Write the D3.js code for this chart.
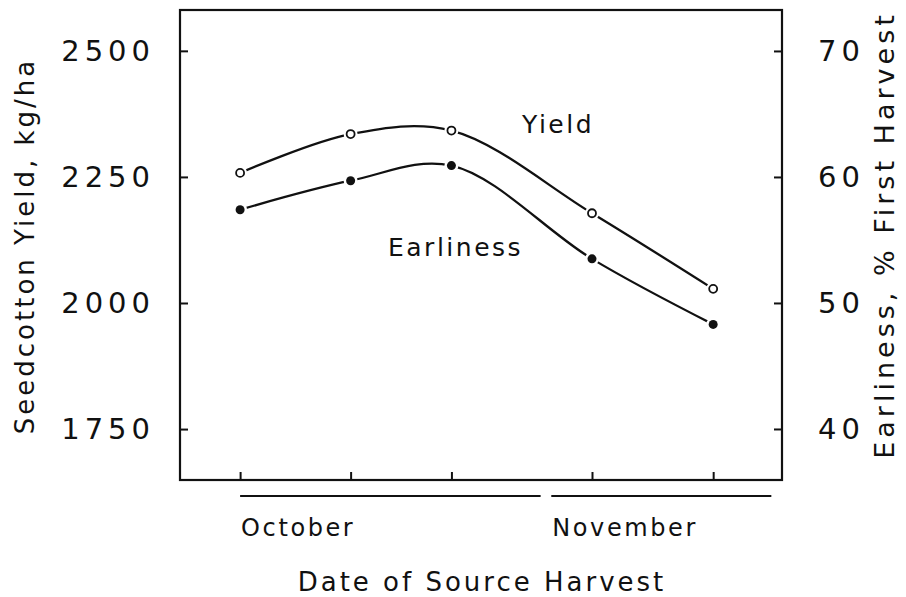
<!DOCTYPE html>
<html>
<head>
<meta charset="utf-8">
<script src="https://cdn.jsdelivr.net/npm/d3@7"></script>
<style>
  body { margin: 0; background: #fff; }
  svg text { font-family: "DejaVu Sans", sans-serif; fill: #111; }
</style>
</head>
<body>
<div class="chart"></div>
<script>
// days after 1 October at which source harvest was taken
const harvestDays = [0, 11.4, 21.8, 36.3, 48.8];
const yieldValues = [2258, 2335, 2342, 2178, 2028];     // kg/ha, left axis
const earlinessValues = [57.4, 59.7, 60.9, 53.5, 48.3]; // %, right axis
const yieldTicks = [1750, 2000, 2250, 2500];
const earlinessTicks = [40, 50, 60, 70];
const monthNames = ["October", "November"];
const monthStart = [0, 32.1];
const monthEnd = [31.0, 54.8];

const svg_width = 906;
const svg_height = 597;
const margin = {top: 10, right: 124, bottom: 117, left: 180};
const chart_width = svg_width - margin.left - margin.right;
const chart_height = svg_height - margin.top - margin.bottom;

const svg = d3.select(".chart").append("svg")
  .attr("width", svg_width).attr("height", svg_height);
svg.append("rect").attr("width", svg_width).attr("height", svg_height).attr("fill", "#fff");

const g = svg.append("g").attr("transform", `translate(${margin.left},${margin.top})`);

const xScale = d3.scaleLinear([-6.2, 55.9], [0, chart_width]);
const yLeft = d3.scaleLinear([1649, 2581], [chart_height, 0]);
const yRight = d3.scaleLinear([35.95, 73.25], [chart_height, 0]);

// frame
g.append("rect")
  .attr("width", chart_width).attr("height", chart_height)
  .attr("fill", "none").attr("stroke", "#111").attr("stroke-width", 2.2);

const tickFont = g => g.selectAll("text")
  .style("font-size", "29px").style("letter-spacing", "5px").attr("fill", "#111");

const leftAxis = g.append("g").attr("class", "y axis")
  .call(d3.axisLeft(yLeft).tickValues(yieldTicks).tickFormat(d3.format("d"))
    .tickSizeInner(-8).tickSizeOuter(0).tickPadding(25));
leftAxis.call(tickFont);

const rightAxis = g.append("g").attr("class", "y2 axis")
  .attr("transform", `translate(${chart_width},0)`)
  .call(d3.axisRight(yRight).tickValues(earlinessTicks).tickFormat(d3.format("d"))
    .tickSizeInner(-8).tickSizeOuter(0).tickPadding(36));
rightAxis.call(tickFont);

const bottomAxis = g.append("g").attr("class", "x axis")
  .attr("transform", `translate(0,${chart_height})`)
  .call(d3.axisBottom(xScale).tickValues(harvestDays).tickSizeInner(-8).tickSizeOuter(0).tickFormat(""));

g.selectAll(".axis .domain").remove();
g.selectAll(".axis .tick line").attr("stroke", "#111").attr("stroke-width", 2);
g.selectAll(".axis text").attr("font-family", "DejaVu Sans");

// month underlines and names
monthNames.forEach((m, i) => {
  g.append("line")
    .attr("x1", xScale(monthStart[i])).attr("x2", xScale(monthEnd[i]))
    .attr("y1", chart_height + 16).attr("y2", chart_height + 16)
    .attr("stroke", "#111").attr("stroke-width", 2.2);
  g.append("text")
    .attr("x", xScale(monthStart[i]) + 1).attr("y", chart_height + 56)
    .style("font-size", "24px").style("letter-spacing", "2.6px")
    .text(m);
});

// curves
const yieldPts = harvestDays.map((d, i) => [xScale(d), yLeft(yieldValues[i])]);
const earlyPts = harvestDays.map((d, i) => [xScale(d), yRight(earlinessValues[i])]);
const line = d3.line().curve(d3.curveCatmullRom.alpha(0.5));

[yieldPts, earlyPts].forEach(pts => {
  g.append("path").attr("d", line(pts))
    .attr("fill", "none").attr("stroke", "#111").attr("stroke-width", 2.3);
  // white gap around markers
  g.selectAll(null).data(pts).enter().append("circle")
    .attr("cx", d => d[0]).attr("cy", d => d[1]).attr("r", 7).attr("fill", "#fff");
});

g.selectAll(".yield-pt").data(yieldPts).enter().append("circle")
  .attr("class", "yield-pt")
  .attr("cx", d => d[0]).attr("cy", d => d[1]).attr("r", 4)
  .attr("fill", "#fff").attr("stroke", "#111").attr("stroke-width", 1.8);

g.selectAll(".early-pt").data(earlyPts).enter().append("circle")
  .attr("class", "early-pt")
  .attr("cx", d => d[0]).attr("cy", d => d[1]).attr("r", 4.5)
  .attr("fill", "#111");

// series labels
g.append("text").attr("x", 342).attr("y", 123)
  .style("font-size", "25px").style("letter-spacing", "2.5px").text("Yield");
g.append("text").attr("x", 208).attr("y", 246)
  .style("font-size", "25px").style("letter-spacing", "2.5px").text("Earliness");

// axis titles
svg.append("text")
  .attr("transform", `translate(25,246) rotate(-90)`)
  .attr("dy", "0.35em").style("text-anchor", "middle")
  .style("font-size", "26px").style("letter-spacing", "3px")
  .text("Seedcotton Yield, kg/ha");

svg.append("text")
  .attr("transform", `translate(885,235) rotate(-90)`)
  .attr("dy", "0.35em").style("text-anchor", "middle")
  .style("font-size", "27px").style("letter-spacing", "4px")
  .text("Earliness, % First Harvest");

svg.append("text")
  .attr("x", 482).attr("y", 591)
  .style("text-anchor", "middle")
  .style("font-size", "26px").style("letter-spacing", "3px")
  .text("Date of Source Harvest");
</script>
</body>
</html>
